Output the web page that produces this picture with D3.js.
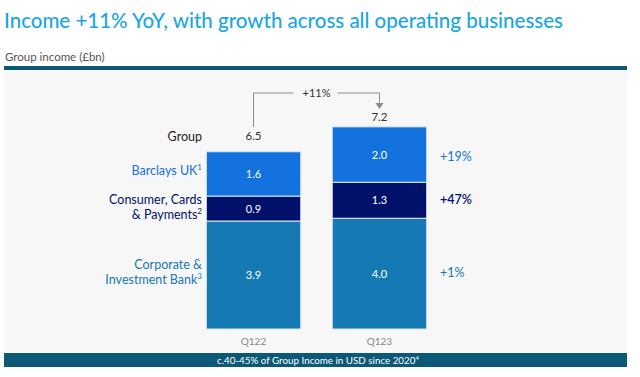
<!DOCTYPE html>
<html>
<head>
<meta charset="utf-8">
<script src="https://cdn.jsdelivr.net/npm/d3@7"></script>
<style>
  body { margin: 0; background: #fff; }
  text { font-family: Lato, "Open Sans", sans-serif; }
</style>
</head>
<body>
<svg id="chart" width="640" height="377"></svg>
<script>
// data
var quarters = ["Q122", "Q123"];
var segments = ["Corporate & Investment Bank", "Consumer, Cards & Payments", "Barclays UK"];
var cib = [3.9, 4.0];
var ccp = [0.9, 1.3];
var buk = [1.6, 2.0];
var groupTotals = [6.5, 7.2];
var growth = ["+1%", "+47%", "+19%"];
var groupGrowth = "+11%";

var segColors = ["#1579b3", "#02126b", "#1472de"];

var svg = d3.select('#chart');

// title block
svg.append('text')
    .attr('x', 4).attr('y', 28)
    .attr('font-size', 20.5)
    .attr('font-weight', 500)
    .attr('fill', '#1aa6e4')
    .text('Income +11% YoY, with growth across all operating businesses');

svg.append('text')
    .attr('x', 5).attr('y', 61)
    .attr('font-size', 11.5)
    .attr('fill', '#555')
    .text('Group income (£bn)');

svg.append('rect')
    .attr('x', 4).attr('y', 70).attr('width', 623).attr('height', 283)
    .attr('fill', '#f7f7f7');

svg.append('rect')
    .attr('x', 4).attr('y', 66).attr('width', 623).attr('height', 4)
    .attr('fill', '#0b5877');

svg.append('rect')
    .attr('x', 4).attr('y', 353).attr('width', 623).attr('height', 14)
    .attr('fill', '#0b5877');

var foot = svg.append('text')
    .attr('x', 318).attr('y', 364)
    .attr('text-anchor', 'middle')
    .attr('font-size', 9.8)
    .attr('fill', '#fff')
    .text('c.40-45% of Group Income in USD since 2020');
foot.append('tspan').attr('dy', -4).attr('font-size', 6).text('4');

// scales
var xScale = d3.scaleBand()
    .domain(quarters)
    .range([200, 433])
    .paddingInner(0.25)
    .paddingOuter(0.05);

var yScale = d3.scaleLinear()
    .domain([0, 6.5])
    .range([329, 149]);

var rows = quarters.map(function(q, i) {
    return {quarter: q, cib: cib[i], ccp: ccp[i], buk: buk[i]};
});
var stack = d3.stack().keys(['cib', 'ccp', 'buk'])(rows);

var layer = svg.selectAll('.layer')
    .data(stack)
    .enter().append('g')
    .attr('class', 'layer')
    .attr('fill', function(d, i) { return segColors[i]; });

layer.selectAll('rect')
    .data(function(d) { return d; })
    .enter().append('rect')
    .attr('x', function(d) { return xScale(d.data.quarter); })
    .attr('width', xScale.bandwidth())
    .attr('y', function(d) { return yScale(d[1]); })
    .attr('height', function(d) { return yScale(d[0]) - yScale(d[1]); })
    .attr('stroke', '#dfe9f5')
    .attr('stroke-width', 1);

layer.selectAll('text')
    .data(function(d) { return d; })
    .enter().append('text')
    .attr('x', function(d) { return xScale(d.data.quarter) + xScale.bandwidth() / 2; })
    .attr('y', function(d) { return (yScale(d[0]) + yScale(d[1])) / 2 + 4; })
    .attr('text-anchor', 'middle')
    .attr('font-size', 11)
    .attr('fill', '#fff')
    .text(function(d) { return (d[1] - d[0]).toFixed(1); });

// group totals above the bars, quarter labels below
quarters.forEach(function(q, i) {
    svg.append('text')
        .attr('x', xScale(q) + xScale.bandwidth() / 2)
        .attr('y', yScale(groupTotals[i]) - 9)
        .attr('text-anchor', 'middle')
        .attr('font-size', 11.5)
        .attr('fill', '#333')
        .text(groupTotals[i].toFixed(1));

    svg.append('text')
        .attr('x', xScale(q) + xScale.bandwidth() / 2)
        .attr('y', 345)
        .attr('text-anchor', 'middle')
        .attr('font-size', 10)
        .attr('fill', '#888')
        .text(q);
});

// +11% bracket
var cx0 = xScale(quarters[0]) + xScale.bandwidth() / 2;
var cx1 = xScale(quarters[1]) + xScale.bandwidth() / 2;
var midX = (cx0 + cx1) / 2;
var bracketY = 93;
var bracket = svg.append('g')
    .attr('stroke', '#8c8c8c')
    .attr('fill', 'none')
    .attr('stroke-width', 1);
bracket.append('path')
    .attr('d', 'M' + cx0 + ',127V' + bracketY + 'H' + (midX - 23));
bracket.append('path')
    .attr('d', 'M' + (midX + 21) + ',' + bracketY + 'H' + cx1 + 'V105');
svg.append('path')
    .attr('d', 'M' + (cx1 - 4) + ',103L' + (cx1 + 4) + ',103L' + cx1 + ',109Z')
    .attr('fill', '#8c8c8c');
svg.append('text')
    .attr('x', midX).attr('y', 97)
    .attr('text-anchor', 'middle')
    .attr('font-size', 11)
    .attr('fill', '#333')
    .text(groupGrowth);

// left labels, one text element per line
var labelX = 202;
function leftLabel(lines, y, color, sup) {
    lines.forEach(function(line, i) {
        var t = svg.append('text')
            .attr('x', labelX).attr('y', y + i * 15)
            .attr('text-anchor', 'end')
            .attr('font-size', 12.5)
            .attr('fill', color)
            .text(line);
        if (i === lines.length - 1 && sup) {
            t.append('tspan').attr('dy', -5).attr('font-size', 8).text(sup);
        }
    });
}
leftLabel(['Group'], 141, '#222', null);
leftLabel(['Barclays UK'], 175, segColors[2], '1');
leftLabel(['Consumer, Cards', '& Payments'], 204, segColors[1], '2');
leftLabel(['Corporate &', 'Investment Bank'], 269, segColors[0], '3');

// right growth labels
var growthY = [277, 204, 161];
growth.forEach(function(g, i) {
    svg.append('text')
        .attr('x', 440).attr('y', growthY[i])
        .attr('font-size', 12.5)
        .attr('font-weight', i === 1 ? 600 : 'normal')
        .attr('fill', segColors[i])
        .text(g);
});
</script>
</body>
</html>
